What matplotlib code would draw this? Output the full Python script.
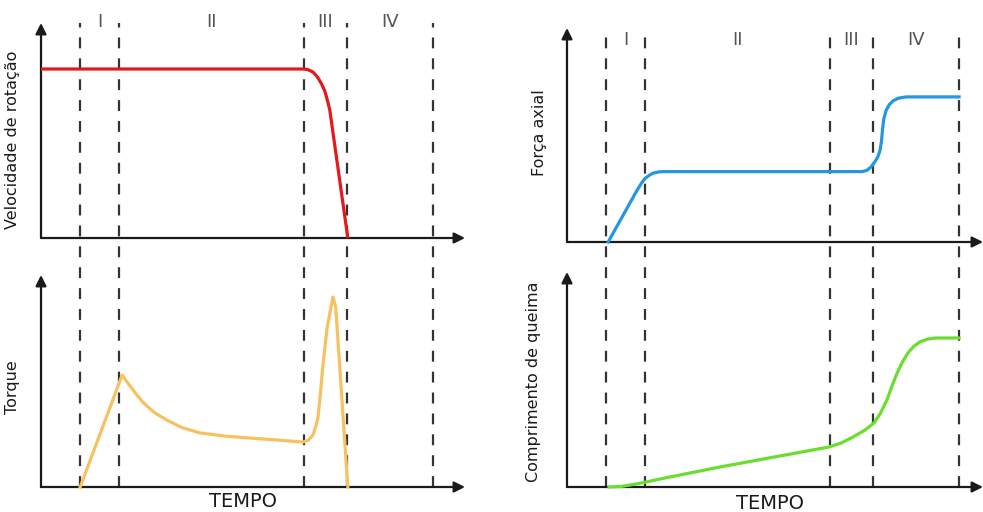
import matplotlib
matplotlib.use("Agg")
import matplotlib.pyplot as plt

# phase boundaries (same time axis for both columns)
phase_bounds = [1.0, 2.0, 6.7, 7.8, 10.0]
phase_names = ['I', 'II', 'III', 'IV']

# rotation speed (red)
speed_t = [0, 6.68, 6.8, 6.94, 7.05, 7.15, 7.24, 7.31, 7.37, 7.83]
speed_v = [7.86, 7.86, 7.84, 7.72, 7.5, 7.2, 6.85, 6.4, 5.95, 0]

# torque (orange)
torque_t = [1.0, 2.07, 2.2, 2.4, 2.6, 2.9, 3.21, 3.6, 4.06, 4.7, 5.33, 6.0, 6.68, 6.82, 6.94, 7.02,
            7.07, 7.13, 7.19, 7.3, 7.45, 7.52, 7.83]
torque_v = [0, 5.28, 4.95, 4.45, 4.0, 3.5, 3.16, 2.8, 2.55, 2.4, 2.31, 2.22, 2.12, 2.2, 2.45, 2.9,
            3.3, 4.4, 5.66, 7.5, 8.96, 8.5, 0]

# axial force (blue)
force_t = [1.05, 1.79, 1.9, 1.99, 2.1, 2.2, 2.35, 2.5, 7.53, 7.65, 7.75, 7.83, 7.92, 7.98, 8.02,
           8.05, 8.08, 8.14, 8.22, 8.32, 8.45, 8.65, 10.0]
force_v = [0, 2.43, 2.75, 2.97, 3.12, 3.22, 3.28, 3.29, 3.29, 3.35, 3.5, 3.69, 3.95, 4.25, 4.7,
           5.3, 5.75, 6.15, 6.42, 6.6, 6.72, 6.78, 6.78]

# burn-off length (green)
burn_t = [1.07, 1.4, 1.8, 2.5, 3.9, 5.3, 6.68, 7.0, 7.3, 7.6, 7.83, 8.0, 8.16, 8.3, 8.42, 8.55,
          8.7, 8.85, 9.0, 9.2, 9.4, 10.0]
burn_v = [0, 0.03, 0.15, 0.42, 0.93, 1.4, 1.86, 2.05, 2.33, 2.65, 2.98, 3.45, 4.05, 4.75, 5.3, 5.8,
          6.25, 6.55, 6.75, 6.88, 6.93, 6.93]

W, H = 983, 512
fig = plt.figure(figsize=(W / 100, H / 100), dpi=100)


def px_axes(x0, y_top, x1, y_bottom):
    # axes from pixel box (top-left origin)
    return fig.add_axes([x0 / W, (H - y_bottom) / H, (x1 - x0) / W, (y_bottom - y_top) / H])


def arrow_axes(ax):
    for s in ax.spines.values():
        s.set_visible(False)
    ax.set_xticks([])
    ax.set_yticks([])
    ax.patch.set_visible(False)
    ap = dict(arrowstyle='-|>', color='#1a1a1a', lw=1.6, mutation_scale=16, shrinkA=0, shrinkB=0)
    ax.annotate('', xy=(1, 0), xytext=(0, 0), xycoords='axes fraction', arrowprops=ap, annotation_clip=False)
    ax.annotate('', xy=(0, 1), xytext=(0, 0), xycoords='axes fraction', arrowprops=ap, annotation_clip=False)


def phase_overlay(x0, y_top, x1, y_bottom, xmax, name_y):
    ov = px_axes(x0, y_top, x1, y_bottom)
    ov.set_xlim(0, xmax)
    ov.set_ylim(0, 1)
    ov.axis('off')
    for b in phase_bounds:
        ov.axvline(b, color='#333333', lw=1.6, ls=(0, (4.9, 4.5)))
    for i, name in enumerate(phase_names):
        mid = (phase_bounds[i] + phase_bounds[i + 1]) / 2
        ov.text(mid, name_y, name, ha='center', va='center', fontsize=13, color='#555555',
                transform=ov.get_xaxis_transform(), clip_on=False)
    return ov


# ---- left column ----
phase_overlay(41, 23, 465, 487, 10.82, 1.002)

ax1 = px_axes(41, 23, 465, 238)
arrow_axes(ax1)
ax1.set_xlim(0, 10.82)
ax1.set_ylim(0, 10)
ax1.plot(speed_t, speed_v, color='#e3191c', lw=2.3, solid_capstyle='butt', zorder=4, clip_on=False)
ax1.set_ylabel('Velocidade de rotação', fontsize=11.5, color='#1a1a1a')
ax1.yaxis.set_label_coords(-0.05, 0.456)

ax2 = px_axes(41, 275, 465, 487)
arrow_axes(ax2)
ax2.set_xlim(0, 10.82)
ax2.set_ylim(0, 10)
ax2.plot(torque_t, torque_v, color='#f6c160', lw=2.3, zorder=4, clip_on=False)
ax2.set_ylabel('Torque', fontsize=11.5, color='#1a1a1a')
ax2.yaxis.set_label_coords(-0.05, 0.47)
ax2.text(0.476, -0.07, 'TEMPO', transform=ax2.transAxes, ha='center', va='center',
         fontsize=14, color='#1a1a1a')

# ---- right column ----
phase_overlay(567, 33, 983, 487, 10.61, 0.985)

ax3 = px_axes(567, 28, 983, 242)
arrow_axes(ax3)
ax3.set_xlim(0, 10.61)
ax3.set_ylim(0, 10)
ax3.plot(force_t, force_v, color='#2596e0', lw=2.3, zorder=4, clip_on=False)
ax3.set_ylabel('Força axial', fontsize=11.5, color='#1a1a1a')
ax3.yaxis.set_label_coords(-0.048, 0.51)

ax4 = px_axes(567, 272, 983, 487)
arrow_axes(ax4)
ax4.set_xlim(0, 10.61)
ax4.set_ylim(0, 10)
ax4.plot(burn_t, burn_v, color='#6ade2e', lw=2.3, zorder=4, clip_on=False)
ax4.set_ylabel('Comprimento de queima', fontsize=11.5, color='#1a1a1a')
ax4.yaxis.set_label_coords(-0.0625, 0.49)
ax4.text(0.488, -0.075, 'TEMPO', transform=ax4.transAxes, ha='center', va='center',
         fontsize=14, color='#1a1a1a')

fig.savefig('out.png', dpi=100)
